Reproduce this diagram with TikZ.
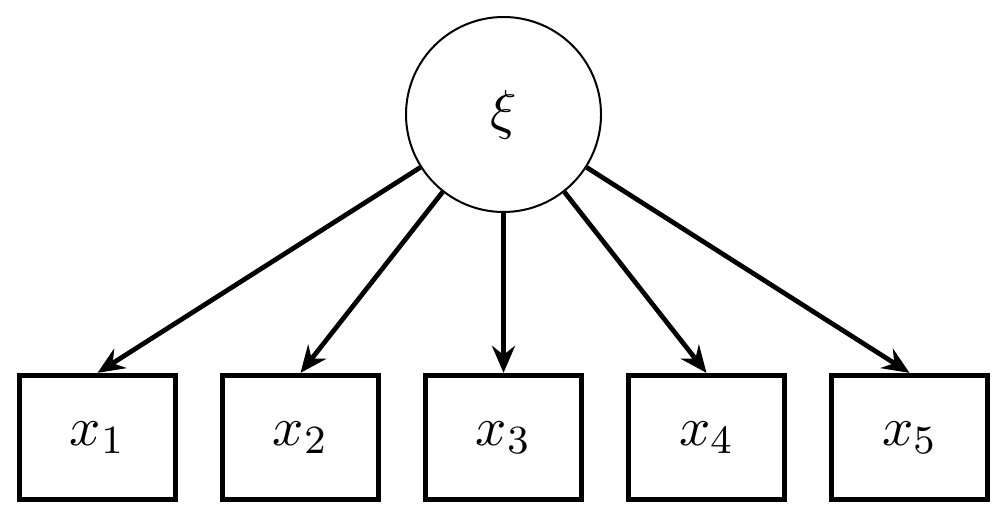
\documentclass[tikz,border=0pt]{standalone}
\usetikzlibrary{arrows.meta}
\begin{document}
\begin{tikzpicture}[x=0.2pt,y=-0.2pt,
  latent/.style={circle,draw,line width=0.4pt,minimum size=39pt,inner sep=0pt,font=\fontsize{11}{13}\selectfont},
  manifest/.style={rectangle,draw,line width=0.95pt,minimum width=31.3pt,minimum height=24.9pt,inner sep=0pt,font=\fontsize{11}{13}\selectfont},
  load/.style={line width=0.95pt,-{Stealth[length=5.4pt,width=4.6pt,inset=1.8pt]}}]
\useasboundingbox (0,0) rectangle (1007,518);
\node[latent] (xi) at (503.5,114.5) {$\xi$};
\node[manifest] (x1) at (97.5,437.5) {$x_1$};
\node[manifest] (x2) at (300.5,437.5) {$x_2$};
\node[manifest] (x3) at (503.5,437.5) {$x_3$};
\node[manifest] (x4) at (706.5,437.5) {$x_4$};
\node[manifest] (x5) at (909.5,437.5) {$x_5$};
\foreach \i in {1,...,5} \draw[load] (xi) -- (x\i.north);
\end{tikzpicture}
\end{document}
